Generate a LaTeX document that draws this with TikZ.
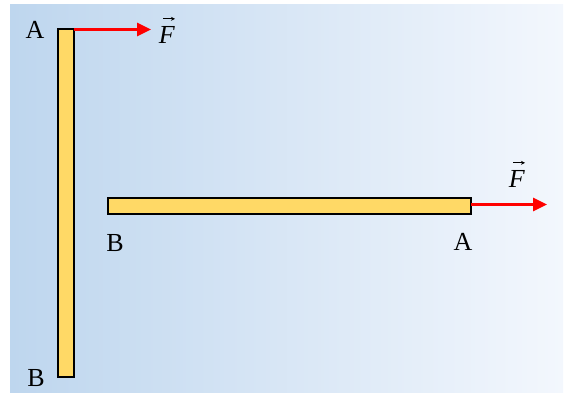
\documentclass[tikz,border=0pt]{standalone}
\usepackage{fontspec}
\setmainfont{Liberation Serif}
\usetikzlibrary{arrows.meta}
\definecolor{bgL}{RGB}{190,214,238}
\definecolor{bgR}{RGB}{243,247,253}
\definecolor{barfill}{RGB}{255,217,102}
\definecolor{forcered}{RGB}{255,0,0}
\tikzset{
  bar/.style={draw=black, line width=1.5pt, fill=barfill, inner sep=0pt, outer sep=0pt},
  force/.style={draw=forcered, line width=3pt, -{Triangle[length=14pt,width=13pt]}},
  lbl/.style={font=\fontsize{26}{30}\selectfont, inner sep=0pt, anchor=base},
  vecarrow/.style={draw=black, line width=0.7pt, -{Stealth[length=4pt,width=4pt]}},
}
\begin{document}
\begin{tikzpicture}[x=1pt,y=-1pt]
\useasboundingbox (0,0) rectangle (564,394);
\shade[left color=bgL, right color=bgR] (10,4) rectangle (563,392);
\node[bar, minimum width=16pt, minimum height=348pt] (vbar) at (66,203) {};
\node[bar, minimum width=363pt, minimum height=16pt] (hbar) at (289.5,206) {};
\coordinate (ftop) at (151,29);
\coordinate (fright) at (547,204);
\draw[force] ([yshift=-0.5pt]vbar.north east) -- ([yshift=-0.5pt]vbar.north east -| ftop);
\draw[force] ([yshift=1.5pt]hbar.east) -- ([yshift=1.5pt]hbar.east -| fright);
\node[lbl] (lA1) at (35,38) {A};
\node[lbl] (lB1) at (36,386) {B};
\node[lbl] (lB2) at (115,251) {B};
\node[lbl] (lA2) at (463,250) {A};
\node[lbl] (lF1) at (167,43) {\textit{F}};
\node[lbl] (lF2) at (517,187) {\textit{F}};
\draw[vecarrow] ([xshift=-4pt,yshift=7pt]lF1.north) -- ++(12,0);
\draw[vecarrow] ([xshift=-4pt,yshift=7pt]lF2.north) -- ++(12,0);
\end{tikzpicture}
\end{document}
